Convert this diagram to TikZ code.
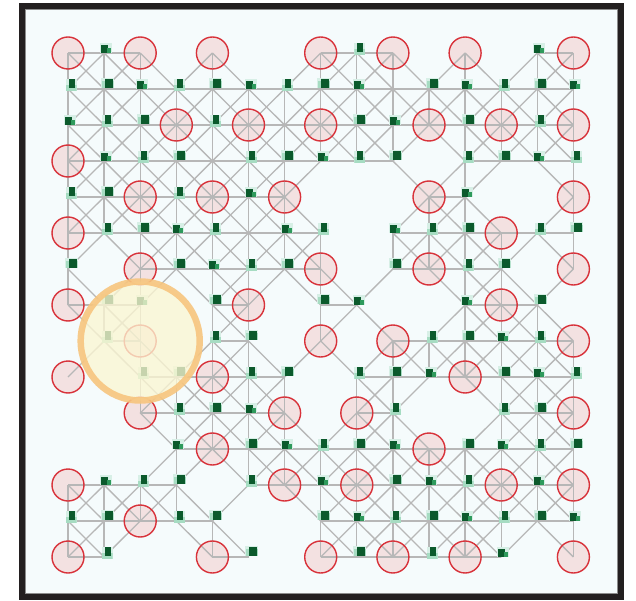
\documentclass[tikz,border=0pt]{standalone}
\definecolor{Cframe}{HTML}{231F20}
\definecolor{Cpaper}{HTML}{F5FBFC}
\definecolor{Cbond}{HTML}{B7B7B7}
\definecolor{Cred}{HTML}{D8323A}
\definecolor{Cpink}{HTML}{F3E1E1}
\definecolor{Cgdark}{HTML}{0B5A2C}
\definecolor{Cgmid}{HTML}{2E9A5C}
\definecolor{Cglight}{HTML}{A6DCC2}
\definecolor{Cghalo}{HTML}{D7EFE6}
\definecolor{Cyellow}{HTML}{FBF6D2}
\definecolor{Corange}{HTML}{F7C57E}
\newcommand\occ[2]{\ifcsname st-#1-#2\endcsname\csname st-#1-#2\endcsname\else0\fi}
\tikzset{
	bond/.style={Cbond,line width=1.3pt},
	atom/.style={circle,inner sep=0pt,minimum size=32pt,draw=Cred,line width=1.4pt},
	markA/.style={rectangle,inner sep=0pt,minimum width=13pt,minimum height=10pt,fill=Cghalo,
		path picture={\fill[Cglight] ([xshift=1pt]path picture bounding box.south west) rectangle ([yshift=-3pt]path picture bounding box.north east);
			\fill[Cgdark] ([xshift=4pt]path picture bounding box.south west) rectangle ([xshift=-1pt,yshift=-1pt]path picture bounding box.north east);}},
	markB/.style={rectangle,inner sep=0pt,minimum width=12pt,minimum height=10pt,fill=Cghalo,
		path picture={\fill[Cgdark] ([xshift=1pt]path picture bounding box.south west) rectangle ([xshift=-4pt,yshift=-2pt]path picture bounding box.north east);
			\fill[Cgmid] ([xshift=7pt]path picture bounding box.south west) rectangle ([xshift=-1pt,yshift=-5pt]path picture bounding box.north east);}},
	markC/.style={rectangle,inner sep=0pt,minimum width=11pt,minimum height=12pt,fill=Cghalo,
		path picture={\fill[Cglight] (path picture bounding box.south west) rectangle ([yshift=-6pt]path picture bounding box.north east);
			\fill[Cgdark] ([xshift=3pt,yshift=3pt]path picture bounding box.south west) rectangle ([xshift=-2pt]path picture bounding box.north east);}},
	spot/.style={circle,inner sep=0pt,minimum size=119pt,fill=Cyellow,fill opacity=0.78,draw=Corange,draw opacity=0.9,line width=6.5pt}
}
\begin{document}
\begin{tikzpicture}[x=1pt,y=-1pt]
	\useasboundingbox (0,0) rectangle (636,601);
	\fill[Cpaper] (22,6) rectangle (621,597);
	\foreach \ry/\sites in {
		0/{1,2,1,0,1,0,0,1,2,1,0,1,0,2,1},
		1/{2,2,2,2,2,2,2,2,2,3,2,2,2,2,2},
		2/{2,2,2,1,2,1,3,1,2,2,1,2,1,2,1},
		3/{1,2,2,2,3,2,2,2,2,2,0,2,2,2,2},
		4/{2,2,1,2,1,2,1,0,0,0,1,2,0,0,1},
		5/{1,2,2,2,2,3,2,2,0,2,2,2,1,2,2},
		6/{2,0,1,2,2,2,2,1,0,2,1,2,2,0,1},
		7/{1,2,2,0,2,1,0,2,2,0,0,2,1,2,0},
		8/{0,2,1,0,2,2,0,1,0,1,2,2,2,2,1},
		9/{1,0,2,2,1,2,2,0,2,2,2,1,2,2,2},
		10/{0,0,1,2,2,2,1,0,1,2,0,0,2,2,1},
		11/{0,0,0,2,1,2,2,2,2,2,1,2,2,2,2},
		12/{1,2,2,2,0,2,1,2,1,2,2,2,1,2,1},
		13/{2,2,1,2,2,0,0,2,2,2,2,2,2,2,2},
		14/{1,2,0,0,1,2,0,1,2,1,2,1,2,0,1}}{
		\foreach \t [count=\cx from 0] in \sites {
			\expandafter\xdef\csname st-\cx-\ry\endcsname{\t}
			\ifnum\t>0
				\coordinate (s-\cx-\ry) at (68+36.1*\cx,53+36*\ry);
			\fi
			\ifnum\t=1
				\fill[Cpink] (s-\cx-\ry) circle (16);
			\fi
		}
	}
	\foreach \ry in {0,...,14}{
		\foreach \cx in {0,...,14}{
			\ifnum\occ{\cx}{\ry}>0
				\foreach \dx/\dy in {1/0,0/1,1/1,-1/1}{
					\pgfmathtruncatemacro\nx{\cx+\dx}
					\pgfmathtruncatemacro\ny{\ry+\dy}
					\ifnum\occ{\nx}{\ny}>0
						\draw[bond] (s-\cx-\ry) -- (s-\nx-\ny);
					\fi
				}
			\fi
		}
	}
	\foreach \ry in {0,...,14}{
		\foreach \cx in {0,...,14}{
			\ifnum\occ{\cx}{\ry}=1
				\node[atom] (a-\cx-\ry) at (s-\cx-\ry) {};
			\fi
			\ifnum\occ{\cx}{\ry}=2
				\pgfmathtruncatemacro\v{mod(7*\cx+5*\ry,3)}
				\ifcase\v
					\node[markA] (m-\cx-\ry) at ([shift={(3,-6)}]s-\cx-\ry) {};
				\or
					\node[markB] (m-\cx-\ry) at ([shift={(2,-5)}]s-\cx-\ry) {};
				\or
					\node[markC] (m-\cx-\ry) at ([shift={(3,-4)}]s-\cx-\ry) {};
				\fi
			\fi
		}
	}
	\node[spot] (focus) at (s-2-8) {};
	\draw[black!45,line width=0.8pt] (25.4,9.4) rectangle (617.6,593.6);
	\draw[Cframe,line width=6pt] (22,6) rectangle (621,597);
\end{tikzpicture}
\end{document}
